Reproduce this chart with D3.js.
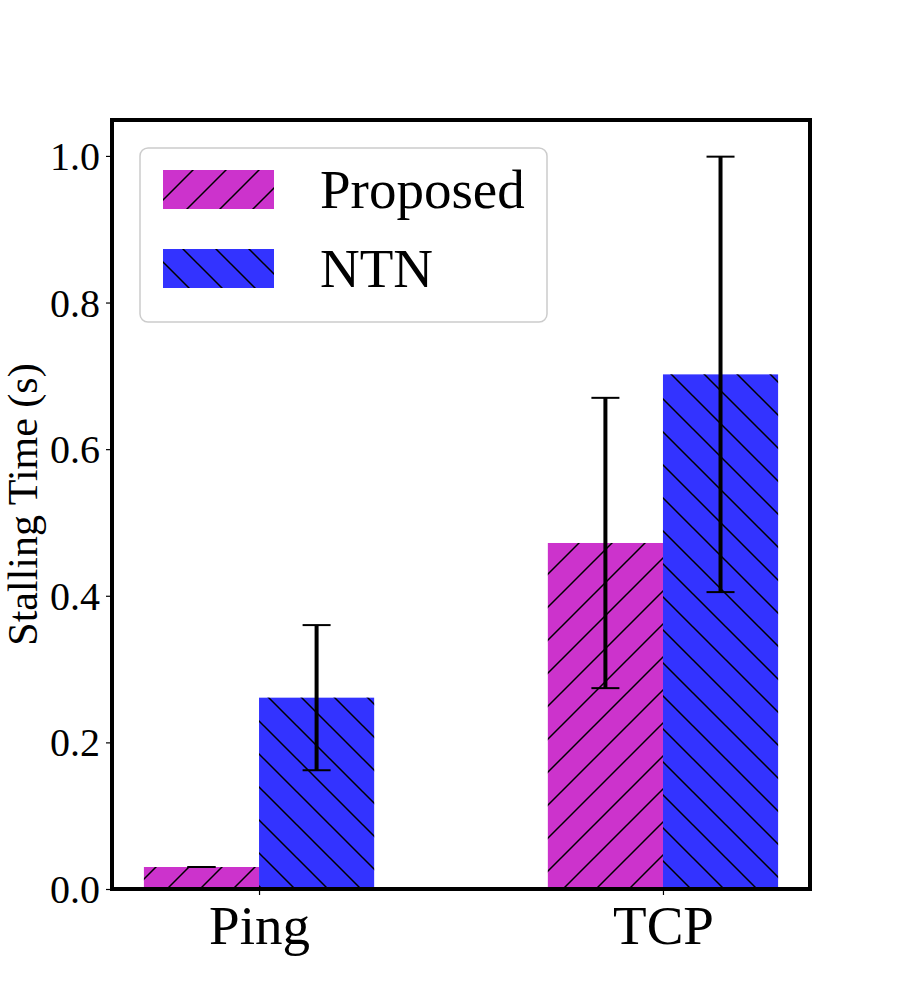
<!DOCTYPE html>
<html>
<head>
<meta charset="utf-8">
<script src="https://cdn.jsdelivr.net/npm/d3@7"></script>
<style>
  body { margin: 0; background: #fff; }
</style>
</head>
<body>
<svg width="900" height="1000"></svg>
<script>
// data
const categories = ["Ping", "TCP"]
const seriesNames = ["Proposed", "NTN"]
const proposedMean = [0.030, 0.472]
const proposedErr = [0.0, 0.198]
const ntnMean = [0.261, 0.702]
const ntnErr = [0.099, 0.297]
const yTicks = [0.0, 0.2, 0.4, 0.6, 0.8, 1.0]

const colors = ["#cc33cc", "#3333ff"]
const hatches = ["hatchFwd", "hatchBack"]
const FONT = "Liberation Serif"

const svg = d3.select("svg").attr("font-family", FONT)
const plotL = 112, plotR = 810, plotT = 120, plotB = 889
const barW = 0.285

// x as numeric positions like matplotlib
const x = d3.scaleLinear().domain([-0.364, 1.364]).range([plotL, plotR])
const y = d3.scaleLinear().domain([0, 1.049]).range([plotB, plotT])

// hatch patterns
const defs = svg.append("defs")
function hatch(id, forward) {
    let p = defs.append("pattern")
        .attr("id", id)
        .attr("patternUnits", "userSpaceOnUse")
        .attr("width", 33).attr("height", 33)
    let d = forward
        ? "M-5 5 L5 -5 M0 33 L33 0 M28 38 L38 28"
        : "M-5 28 L5 38 M0 0 L33 33 M28 -5 L38 5"
    p.append("path").attr("d", d).attr("stroke", "black").attr("stroke-width", 1.5)
}
hatch("hatchFwd", true)
hatch("hatchBack", false)

const series = [
    {name: seriesNames[0], mean: proposedMean, err: proposedErr, offset: -barW / 2},
    {name: seriesNames[1], mean: ntnMean, err: ntnErr, offset: barW / 2}
]

series.forEach((s, si) => {
    let rows = categories.map((c, i) => ({i: i, v: s.mean[i], e: s.err[i]}))
    let g = svg.append("g")
    g.selectAll("rect.fill").data(rows).enter().append("rect")
        .attr("x", d => x(d.i + s.offset - barW / 2))
        .attr("width", d => x(barW) - x(0))
        .attr("y", d => y(d.v))
        .attr("height", d => y(0) - y(d.v))
        .attr("fill", colors[si])
    g.selectAll("rect.hatch").data(rows).enter().append("rect")
        .attr("x", d => x(d.i + s.offset - barW / 2))
        .attr("width", d => x(barW) - x(0))
        .attr("y", d => y(d.v))
        .attr("height", d => y(0) - y(d.v))
        .attr("fill", "url(#" + hatches[si] + ")")
})

// error bars
series.forEach(s => {
    categories.forEach((c, i) => {
        let cx = x(i + s.offset)
        let lo = y(s.mean[i] - s.err[i]), hi = y(s.mean[i] + s.err[i])
        svg.append("line")
            .attr("x1", cx).attr("x2", cx).attr("y1", lo).attr("y2", hi)
            .attr("stroke", "black").attr("stroke-width", 4)
        ;[lo, hi].forEach(yy => {
            svg.append("line")
                .attr("x1", cx - 14).attr("x2", cx + 14).attr("y1", yy).attr("y2", yy)
                .attr("stroke", "black").attr("stroke-width", 2)
        })
    })
})

// axes
let yAxis = svg.append("g")
    .attr("transform", `translate(${plotL},0)`)
    .call(d3.axisLeft(y).tickValues(yTicks).tickFormat(d3.format(".1f")).tickSize(6).tickPadding(6))
yAxis.attr("font-family", FONT).attr("font-size", 40)
yAxis.select(".domain").remove()
yAxis.selectAll("line").attr("stroke-width", 1.2)
yAxis.selectAll("text").attr("font-family", FONT).attr("font-size", 40).attr("dy", "0.34em")

let xAxis = svg.append("g")
    .attr("transform", `translate(0,${plotB})`)
    .call(d3.axisBottom(x).tickValues([0, 1]).tickFormat(d => categories[d]).tickSize(6).tickPadding(10))
xAxis.attr("font-family", FONT).attr("font-size", 55)
xAxis.select(".domain").remove()
xAxis.selectAll("line").attr("stroke-width", 1.2)
xAxis.selectAll("text").attr("font-family", FONT).attr("font-size", 55).attr("dy", "0.71em")

// frame
svg.append("rect")
    .attr("x", plotL).attr("y", plotT)
    .attr("width", plotR - plotL).attr("height", plotB - plotT)
    .attr("fill", "none").attr("stroke", "black").attr("stroke-width", 4)

// y label
svg.append("text")
    .attr("transform", `translate(37,${(plotT + plotB) / 2}) rotate(-90)`)
    .attr("text-anchor", "middle")
    .attr("font-family", FONT).attr("font-size", 42)
    .text("Stalling Time (s)")

// legend
let leg = svg.append("g")
leg.append("rect")
    .attr("x", 140).attr("y", 148).attr("width", 407).attr("height", 174)
    .attr("rx", 8).attr("fill", "white").attr("fill-opacity", 0.8)
    .attr("stroke", "#cccccc").attr("stroke-width", 1.5)
seriesNames.forEach((n, i) => {
    let yy = 170 + i * 79
    leg.append("rect").attr("x", 163).attr("y", yy).attr("width", 111).attr("height", 39)
        .attr("fill", colors[i])
    leg.append("rect").attr("x", 163).attr("y", yy).attr("width", 111).attr("height", 39)
        .attr("fill", "url(#" + hatches[i] + ")")
    leg.append("text").attr("x", 320).attr("y", yy + 38)
        .attr("font-family", FONT).attr("font-size", 55).text(n)
})
</script>
</body>
</html>
